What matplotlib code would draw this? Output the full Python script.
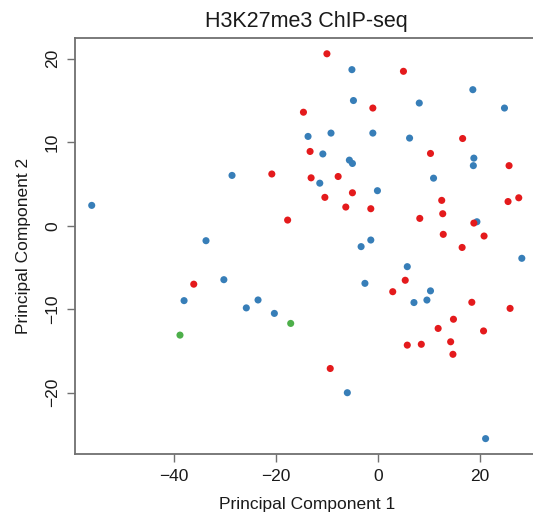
import matplotlib
matplotlib.use("Agg")
import matplotlib.pyplot as plt
import numpy as np

plt.rcParams['font.family'] = ['Liberation Sans', 'DejaVu Sans']

# ---------- PCA scores, per sample group ----------
blue_pc1 = [-56.1, -28.6, -33.7, -5.1, 18.6, -4.8, 8.1, 24.8, -13.7, -9.2,
            -1.0, 6.2, -10.8, 18.8, 18.7, -5.6, -5.0, -11.4, 10.9, -0.1,
            19.4, -1.4, -3.3, -30.2, -38.0, -25.8, -23.5, -20.3, 28.2, 5.75,
            10.3, 7.06, 9.6, -2.55, -6.0, 21.1]
blue_pc2 = [2.44, 6.03, -1.79, 18.7, 16.3, 15.0, 14.7, 14.1, 10.7, 11.1,
            11.1, 10.5, 8.6, 8.1, 7.2, 7.86, 7.46, 5.1, 5.7, 4.2,
            0.48, -1.71, -2.5, -6.46, -8.97, -9.84, -8.89, -10.5, -3.9, -4.9,
            -7.8, -9.2, -8.9, -6.9, -20.0, -25.5]

red_pc1 = [-20.8, -17.7, -10.0, 5.0, -1.0, -14.6, 16.6, -13.3, 10.3, 25.7,
           -13.1, -7.8, -5.0, -10.4, 12.5, 25.5, 27.6, -6.3, -1.4, 12.7,
           8.2, 18.8, 12.8, 20.8, 16.5, -36.1, 5.35, 2.9, 18.4, 25.9,
           14.8, 11.8, 20.7, 14.25, 5.75, 8.5, 14.7, -9.35]
red_pc2 = [6.2, 0.68, 20.6, 18.5, 14.1, 13.6, 10.45, 8.9, 8.66, 7.2,
           5.74, 5.9, 3.95, 3.4, 3.04, 2.9, 3.35, 2.24, 2.04, 1.44,
           0.88, 0.32, -1.03, -1.23, -2.6, -7.0, -6.53, -7.9, -9.17, -9.9,
           -11.2, -12.3, -12.6, -13.9, -14.3, -14.2, -15.4, -17.1]

green_pc1 = [-17.1, -38.8]
green_pc2 = [-11.7, -13.1]

fig = plt.figure(figsize=(5.33, 5.23), dpi=100)
# right border of the R plot is cropped in the reference, so the axes run past the figure edge
ax = fig.add_axes([0.1398, 0.1319, 0.8715, 0.7947])

for xs, ys, col in [(blue_pc1, blue_pc2, '#377EB8'),
                    (red_pc1, red_pc2, '#E41A1C'),
                    (green_pc1, green_pc2, '#4DAF4A')]:
    ax.scatter(xs, ys, s=26, c=col, edgecolors='none', zorder=3)

# R-style 4% padding around the data range
allx = np.array(blue_pc1 + red_pc1 + green_pc1)
ally = np.array(blue_pc2 + red_pc2 + green_pc2)
dx = (allx.max() - allx.min()) * 0.04
dy = (ally.max() - ally.min()) * 0.04
ax.set_xlim(allx.min() - dx, allx.max() + dx)
ax.set_ylim(ally.min() - dy, ally.max() + dy)

ax.set_xticks([-40, -20, 0, 20])
ax.set_yticks([-20, -10, 0, 10, 20])
ax.set_yticklabels(['\u221220', '\u221210', '0', '10', '20'], rotation=90, va='center')
ax.set_xticklabels(['\u221240', '\u221220', '0', '20'])

for sp in ax.spines.values():
    sp.set_color('#707070')
    sp.set_linewidth(1.3)
ax.tick_params(axis='both', length=5.5, width=1.0, color='#707070',
               labelsize=12.5, labelcolor='#1a1a1a', pad=5)

ax.set_title('H3K27me3 ChIP-seq', fontsize=15.5, color='#1a1a1a', pad=8)
ax.set_xlabel('Principal Component 1', fontsize=12.5, color='#1a1a1a', labelpad=10)
ax.set_ylabel('Principal Component 2', fontsize=12.5, color='#1a1a1a', labelpad=10)

fig.savefig('out.png', dpi=100)
